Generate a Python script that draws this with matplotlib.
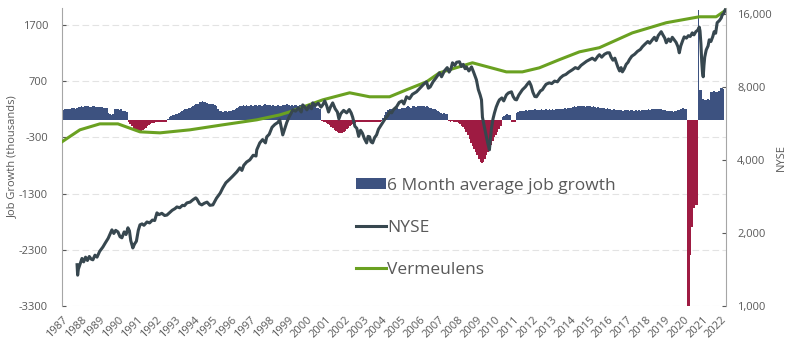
import numpy as np
import matplotlib.pyplot as plt
from matplotlib.patches import Patch
from matplotlib.lines import Line2D

plt.rcParams['font.family'] = ['Open Sans', 'DejaVu Sans']

# 6 month average job growth (thousands), monthly, Jan 1987 .. Feb 2022
job_rows = [
    [190, 200, 210, 200, 195, 205, 215, 220, 210, 230, 240, 235],  # 1987
    [250, 245, 255, 260, 250, 240, 245, 250, 255, 240, 235, 240],  # 1988
    [245, 240, 230, 225, 220, 130, 110, 100, 110, 200, 210, 200],  # 1989
    [190, 200, 170, 160, 170, 150, -20, -60, -100, -130, -160, -180],  # 1990
    [-190, -195, -190, -170, -150, -130, -100, -80, -60, -50, -40, -30],  # 1991
    [-20, -25, -30, -35, -30, -25, -20, 30, 60, 80, 90, 100],  # 1992
    [110, 120, 140, 150, 170, 180, 200, 210, 220, 230, 240, 250],  # 1993
    [280, 290, 300, 320, 330, 340, 330, 320, 310, 300, 290, 300],  # 1994
    [300, 280, 250, 200, 170, 160, 150, 160, 160, 150, 160, 170],  # 1995
    [180, 190, 210, 230, 240, 250, 260, 270, 260, 270, 250, 260],  # 1996
    [270, 260, 280, 270, 260, 280, 270, 260, 280, 290, 270, 280],  # 1997
    [270, 260, 270, 250, 260, 270, 250, 260, 270, 280, 270, 290],  # 1998
    [270, 260, 280, 250, 270, 280, 260, 270, 260, 280, 270, 260],  # 1999
    [280, 270, 290, 260, 250, 240, 230, 220, 200, -10, -20, -30],  # 2000
    [-40, -60, -80, -110, -140, -170, -190, -210, -220, -230, -225, -210],  # 2001
    [-190, -160, -130, -100, -80, -60, -40, -30, -30, -25, -30, -35],  # 2002
    [-30, -25, -20, -30, -35, -30, -25, -20, -30, -25, -20, -15],  # 2003
    [50, 100, 150, 180, 200, 210, 190, 200, 210, 220, 200, 210],  # 2004
    [220, 230, 220, 240, 250, 240, 230, 260, 250, 240, 250, 260],  # 2005
    [250, 260, 250, 240, 250, 240, 230, 220, 210, 200, 180, 160],  # 2006
    [150, 140, 120, 130, 110, 120, -10, -20, -15, -25, -20, -30],  # 2007
    [-40, -60, -90, -120, -150, -200, -260, -330, -400, -450, -500, -560],  # 2008
    [-620, -680, -740, -760, -730, -680, -620, -560, -500, -430, -360, -300],  # 2009
    [-250, -200, -150, -100, 60, 80, 100, 110, 100, 90, -20, -20],  # 2010
    [-20, 130, 150, 160, 170, 160, 170, 180, 170, 180, 190, 180],  # 2011
    [190, 200, 190, 180, 190, 200, 190, 180, 200, 190, 200, 190],  # 2012
    [200, 190, 200, 210, 200, 210, 200, 210, 220, 210, 220, 230],  # 2013
    [230, 240, 250, 240, 250, 260, 250, 260, 250, 240, 250, 260],  # 2014
    [250, 240, 250, 240, 230, 240, 230, 220, 230, 220, 210, 220],  # 2015
    [210, 200, 190, 200, 180, 190, 180, 190, 180, 170, 180, 190],  # 2016
    [180, 170, 180, 190, 170, 180, 170, 180, 170, 180, 190, 180],  # 2017
    [190, 200, 190, 200, 210, 200, 210, 200, 210, 200, 190, 180],  # 2018
    [180, 170, 160, 170, 160, 150, 160, 170, 180, 190, 200, 220],  # 2019
    [210, 200, -3300, -3300, -2400, -1900, -1550, -1500, -1500, 1970, 550, 540],  # 2020
    [380, 370, 360, 380, 370, 500, 510, 520, 500, 510, 530, 570],  # 2021
    [570, 560],  # 2022
]
job_growth = np.array([v for row in job_rows for v in row], dtype=float)
job_t = 1987 + np.arange(len(job_growth)) / 12

# NYSE index (right axis, log scale)
nyse_pts = [
    (1987.80, 1480), (1987.83, 1340), (1987.87, 1420), (1987.95, 1480), (1988.06, 1570),
    (1988.15, 1520), (1988.25, 1590), (1988.35, 1540), (1988.45, 1600), (1988.55, 1560),
    (1988.64, 1550), (1988.75, 1620), (1988.86, 1590), (1989.00, 1680), (1989.17, 1750),
    (1989.30, 1820), (1989.45, 1900), (1989.65, 2060), (1989.75, 1990), (1989.85, 2050),
    (1989.97, 2020), (1990.08, 1930), (1990.18, 1910), (1990.30, 2020), (1990.40, 1970),
    (1990.50, 2100), (1990.58, 2040), (1990.65, 1860), (1990.76, 1735), (1990.85, 1800),
    (1990.95, 1850), (1991.05, 2050), (1991.14, 2160), (1991.25, 2180), (1991.35, 2150),
    (1991.51, 2220), (1991.65, 2200), (1991.80, 2260), (1991.92, 2250), (1992.04, 2420),
    (1992.15, 2380), (1992.30, 2410), (1992.45, 2360), (1992.57, 2370), (1992.70, 2420),
    (1992.85, 2480), (1993.00, 2520), (1993.10, 2560), (1993.25, 2540), (1993.40, 2600),
    (1993.50, 2590), (1993.63, 2660), (1993.80, 2680), (1993.95, 2740), (1994.10, 2790),
    (1994.16, 2760), (1994.30, 2640), (1994.42, 2610), (1994.55, 2650), (1994.70, 2680),
    (1994.85, 2600), (1995.01, 2610), (1995.20, 2780), (1995.40, 2920), (1995.54, 3070),
    (1995.70, 3220), (1995.90, 3330), (1996.05, 3420), (1996.20, 3520), (1996.28, 3570),
    (1996.44, 3710), (1996.55, 3620), (1996.65, 3800), (1996.80, 3920), (1996.97, 4000),
    (1997.15, 4180), (1997.30, 4150), (1997.34, 4400), (1997.50, 4700), (1997.65, 4850),
    (1997.80, 4700), (1997.87, 4980), (1998.00, 5100), (1998.15, 5450), (1998.30, 5600),
    (1998.45, 5700), (1998.56, 5850), (1998.65, 5400), (1998.72, 5070), (1998.80, 5300),
    (1998.93, 5700), (1999.05, 6000), (1999.15, 6200), (1999.25, 6430), (1999.40, 6350),
    (1999.55, 6550), (1999.70, 6300), (1999.78, 6740), (1999.90, 6600), (2000.00, 6430),
    (2000.12, 6700), (2000.25, 6500), (2000.31, 6870), (2000.45, 6700), (2000.60, 6850),
    (2000.75, 6600), (2000.84, 6740), (2000.95, 7000), (2001.05, 6700), (2001.15, 6300),
    (2001.25, 6600), (2001.37, 6870), (2001.50, 6500), (2001.62, 6300), (2001.70, 5900),
    (2001.80, 6200), (2001.95, 6400), (2002.11, 6250), (2002.25, 6450), (2002.35, 6250),
    (2002.43, 6000), (2002.55, 5500), (2002.65, 5400), (2002.75, 5000), (2002.85, 5300),
    (2002.95, 5150), (2003.05, 4900), (2003.17, 4700), (2003.25, 5000), (2003.33, 4980),
    (2003.40, 4750), (2003.49, 4700), (2003.60, 4950), (2003.70, 5070), (2003.80, 5350),
    (2003.90, 5500), (2004.02, 5680), (2004.15, 5900), (2004.30, 6100), (2004.39, 6310),
    (2004.50, 6250), (2004.60, 6450), (2004.76, 6620), (2004.90, 6900), (2005.05, 7000),
    (2005.15, 6800), (2005.29, 7280), (2005.45, 7150), (2005.60, 7450), (2005.82, 7630),
    (2006.00, 7900), (2006.20, 8200), (2006.35, 8390), (2006.45, 7900), (2006.55, 8000),
    (2006.70, 8400), (2006.85, 8700), (2007.04, 9140), (2007.15, 8800), (2007.30, 9300),
    (2007.45, 9600), (2007.55, 9200), (2007.65, 9500), (2007.73, 10050), (2007.85, 9800),
    (2007.95, 10100), (2008.10, 10150), (2008.20, 9700), (2008.30, 9900), (2008.40, 9500),
    (2008.47, 9670), (2008.60, 9300), (2008.74, 9670), (2008.85, 9200), (2009.00, 8550),
    (2009.10, 7800), (2009.20, 7400), (2009.27, 7070), (2009.32, 6000), (2009.40, 5600),
    (2009.48, 5200), (2009.53, 4980), (2009.60, 4700), (2009.69, 4400), (2009.75, 4900),
    (2009.80, 5400), (2009.88, 5900), (2009.96, 6250), (2010.05, 6600), (2010.15, 6900),
    (2010.22, 7070), (2010.35, 7200), (2010.45, 7000), (2010.59, 7410), (2010.70, 7550),
    (2010.86, 7630), (2010.95, 7300), (2011.05, 7100), (2011.13, 7070), (2011.25, 7400),
    (2011.35, 7600), (2011.44, 7780), (2011.60, 8000), (2011.70, 8200), (2011.81, 8390),
    (2011.90, 8100), (2012.00, 7600), (2012.10, 7300), (2012.19, 7280), (2012.30, 7500),
    (2012.40, 7700), (2012.50, 7780), (2012.60, 8000), (2012.70, 8200), (2012.87, 8310),
    (2013.00, 8250), (2013.15, 8450), (2013.30, 8390), (2013.45, 8700), (2013.60, 8900),
    (2013.75, 9000), (2013.90, 9200), (2014.09, 9400), (2014.25, 9600), (2014.40, 9500),
    (2014.55, 9800), (2014.70, 10000), (2014.85, 10200), (2015.00, 10350), (2015.15, 10500),
    (2015.30, 10300), (2015.45, 10700), (2015.53, 10850), (2015.65, 10600), (2015.80, 10900),
    (2015.95, 11050), (2016.06, 11050), (2016.15, 10600), (2016.25, 10300), (2016.35, 10500),
    (2016.43, 10050), (2016.52, 9600), (2016.60, 9300), (2016.68, 9600), (2016.75, 9220),
    (2016.85, 9500), (2016.95, 9900), (2017.05, 10100), (2017.12, 10350), (2017.25, 10700),
    (2017.40, 10900), (2017.55, 11200), (2017.70, 11400), (2017.81, 11700), (2017.95, 12000),
    (2018.10, 12300), (2018.20, 12100), (2018.34, 12500), (2018.45, 12800), (2018.55, 12400),
    (2018.65, 13000), (2018.81, 13500), (2018.90, 13100), (2019.00, 12700), (2019.08, 12150),
    (2019.20, 12600), (2019.30, 12300), (2019.40, 12800), (2019.50, 12500), (2019.60, 12200),
    (2019.70, 11700), (2019.77, 11050), (2019.85, 11800), (2019.95, 12400), (2020.03, 12850),
    (2020.15, 12700), (2020.25, 13000), (2020.35, 12900), (2020.46, 13350), (2020.55, 13100),
    (2020.65, 13500), (2020.75, 13700), (2020.83, 14100), (2020.87, 13600), (2020.92, 12000),
    (2020.96, 10200), (2021.00, 9200), (2021.04, 8800), (2021.08, 9800), (2021.12, 10600),
    (2021.20, 11350), (2021.30, 11800), (2021.36, 12500), (2021.45, 12300), (2021.55, 12900),
    (2021.62, 13500), (2021.70, 13300), (2021.78, 14700), (2021.90, 15000), (2022.00, 15400),
    (2022.05, 15850), (2022.12, 16000), (2022.21, 16600),
]
nyse_t = [p[0] for p in nyse_pts]
nyse = [p[1] for p in nyse_pts]

# Vermeulens (right axis)
verm_t = [1987.0, 1987.95, 1989.01, 1989.97, 1991.14, 1992.20, 1993.79, 1995.54, 1997.34,
          1998.56, 1999.09, 2000.84, 2002.27, 2003.33, 2004.39, 2005.29, 2006.35, 2007.04,
          2008.79, 2010.59, 2011.44, 2012.34, 2013.40, 2014.47, 2015.53, 2017.28, 2019.08,
          2020.83, 2021.73, 2022.26]
verm = [4750, 5320, 5630, 5630, 5220, 5170, 5320, 5580, 5850,
        6130, 6310, 7070, 7560, 7280, 7280, 7780, 8390, 9140,
        10050, 9220, 9220, 9580, 10350, 11150, 11600, 13350, 14700,
        15550, 15550, 16600]

years = list(range(1987, 2023))
left_ticks = [-3300, -2300, -1300, -300, 700, 1700]
right_ticks = [1000, 2000, 4000, 8000, 16000]

BLUE = '#3d5280'
RED = '#9e1b42'
DARK = '#37474f'
GREEN = '#6aa121'
GREY = '#595959'

fig = plt.figure(figsize=(8, 3.64), dpi=100)
ax = fig.add_axes([0.0775, 0.1593, 0.83, 0.8187])
ax2 = ax.twinx()

colors = [BLUE if v >= 0 else RED for v in job_growth]
ax.bar(job_t, job_growth, width=1 / 12, align='edge', color=colors, linewidth=0, zorder=2)
ax.set_ylim(-3300, 2000)
ax.set_xlim(1987, 2022.25)
ax.set_yticks(left_ticks)
ax.set_yticklabels([str(v) for v in left_ticks])
ax.grid(axis='y', color='#e3e3e3', lw=0.8, ls=(0, (6, 3)), zorder=0)
ax.set_axisbelow(True)
ax.set_xticks(years)
ax.set_xticklabels([str(y) for y in years], rotation=45, ha='right', rotation_mode='anchor')
ax.tick_params(axis='x', length=0, labelsize=8, colors=GREY, pad=6)
ax.tick_params(axis='y', direction='in', length=3, labelsize=8, colors=GREY, pad=10)
ax.set_ylabel('Job Growth (thousands)', fontsize=8, color=GREY, labelpad=1)

# white year ticks on the zero line
sec = ax.secondary_xaxis(0, transform=ax.transData)
sec.set_xticks(years)
sec.tick_params(axis='x', colors='white', direction='in', length=4, width=0.8, labelbottom=False)
sec.spines['bottom'].set_visible(False)

ax2.plot(verm_t, verm, color=GREEN, lw=2.2, zorder=3)
ax2.plot(nyse_t, nyse, color=DARK, lw=2.2, zorder=4)
ax2.set_yscale('log')
ax2.set_ylim(1000, 16900)
ax2.set_yticks(right_ticks)
ax2.set_yticklabels(['{:,}'.format(v) for v in right_ticks])
ax2.minorticks_off()
ax2.tick_params(axis='y', direction='in', length=3, labelsize=8, colors=GREY, pad=8)
ax2.set_ylabel('NYSE', fontsize=8, color=GREY, labelpad=3)

for a in (ax, ax2):
    for s in ('top', 'bottom'):
        a.spines[s].set_visible(False)
    a.spines['left'].set_color('#a6a6a6')
    a.spines['right'].set_color('#a6a6a6')
ax.spines['right'].set_visible(False)
ax2.spines['left'].set_visible(False)

handles = [Patch(facecolor=BLUE, edgecolor='none'),
           Line2D([], [], color=DARK, lw=2.2),
           Line2D([], [], color=GREEN, lw=2.2)]
labels = ['6 Month average job growth', 'NYSE', 'Vermeulens']
leg = ax2.legend(handles, labels, loc='upper left', bbox_to_anchor=(356 / 800, 1 - 178 / 364),
                 bbox_transform=fig.transFigure, frameon=False, fontsize=12.5,
                 handlelength=1.7, handleheight=0.6, handletextpad=0.1, labelspacing=1.5,
                 borderpad=0, borderaxespad=0)
for t in leg.get_texts():
    t.set_color(GREY)

fig.savefig('out.png', dpi=100)
